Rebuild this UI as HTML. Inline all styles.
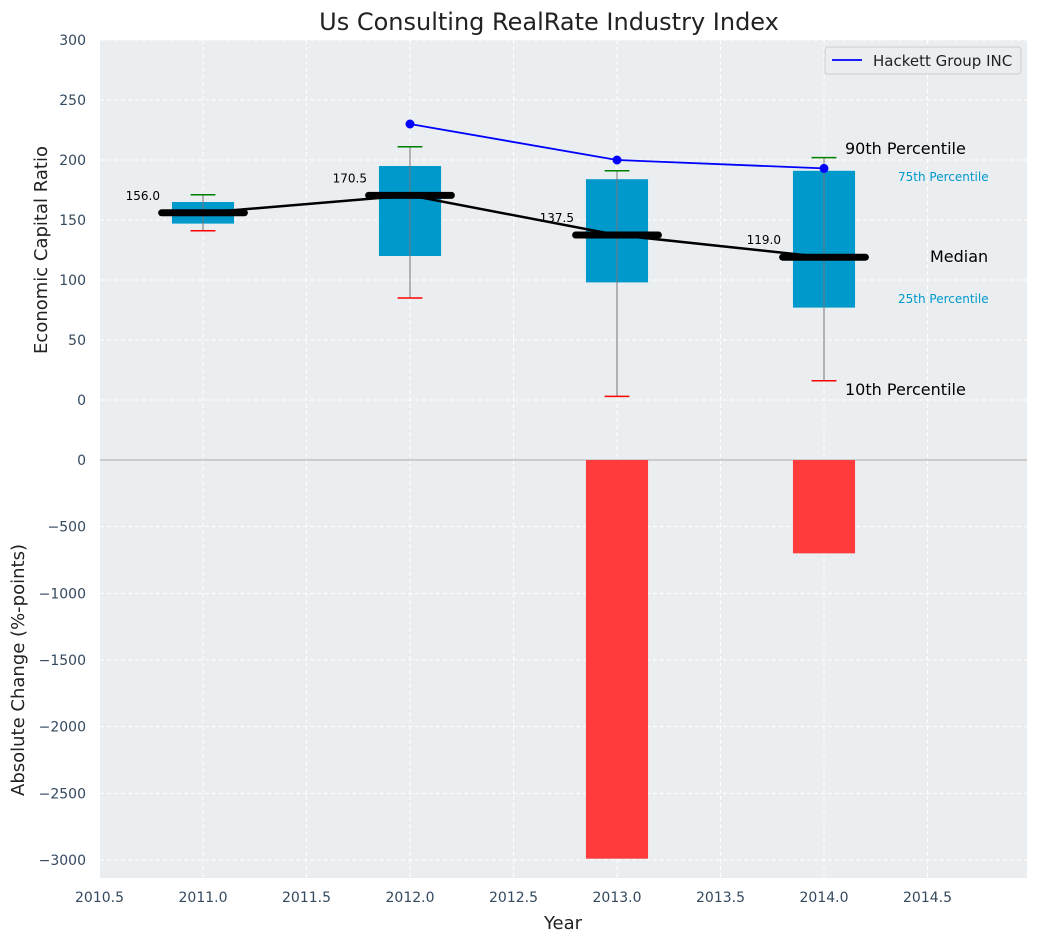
<!DOCTYPE html>
<html><head><meta charset="utf-8">
<style>
body{margin:0;background:#fff;font-family:"Liberation Sans","DejaVu Sans",sans-serif;}
svg text{font-family:"DejaVu Sans","Liberation Sans",sans-serif;}
</style></head>
<body>
<svg id="chart" width="1039" height="942" xmlns="http://www.w3.org/2000/svg"></svg>
<script>
const years=[2011,2012,2013,2014];
const p10=[141,85,3,16];
const q1=[147,120,98,77];
const median=[156,170.5,137.5,119];
const q3=[165,195,184,191];
const p90=[171,211,191,202];
const hackettYears=[2012,2013,2014];
const hackettValues=[230,200,193];
const changeYears=[2013,2014];
const changeValues=[-2990,-700];
const topTicks=[0,50,100,150,200,250,300];
const botTicks=[0,-500,-1000,-1500,-2000,-2500,-3000];
const xTicks=[2010.5,2011,2011.5,2012,2012.5,2013,2013.5,2014,2014.5];

const NS="http://www.w3.org/2000/svg";
const svg=document.getElementById('chart');
const L=100,R=1027;
const X=v=>99.5+(v-2010.5)*207;
const Yt=v=>400-(v)*1.2;
const Yb=v=>460-v*(400/3000);
function el(t,a,txt){const e=document.createElementNS(NS,t);for(const k in a)e.setAttribute(k,a[k]);if(txt!==undefined)e.textContent=txt;svg.appendChild(e);return e;}

let e;
e=el('rect',{x:L,y:40,width:R-L,height:420,fill:'#eaeef0'});


e=el('rect',{x:L,y:460,width:R-L,height:418,fill:'#eaeef0'});


xTicks.forEach(t=>{el('line',{x1:X(t),x2:X(t),y1:40,y2:878,stroke:'#fff','stroke-dasharray':'4,3','stroke-width':1});});
topTicks.forEach(t=>{el('line',{x1:L,x2:R,y1:Yt(t),y2:Yt(t),stroke:'#fff','stroke-dasharray':'4,3'});
 e=el('text',{x:86,y:Yt(t)+5,'text-anchor':'end','font-size':14,fill:'#34495e'},t);
 });
botTicks.forEach(t=>{el('line',{x1:L,x2:R,y1:Yb(t),y2:Yb(t),stroke:'#fff','stroke-dasharray':'4,3'});
 e=el('text',{x:86,y:Yb(t)+5,'text-anchor':'end','font-size':14,fill:'#34495e'},t<0?'\u2212'+(-t):t);
 });
xTicks.forEach(t=>{e=el('text',{x:X(t),y:902,'text-anchor':'middle','font-size':14,fill:'#34495e'},t.toFixed(1));
 });
el('line',{x1:L,x2:R,y1:460,y2:460,stroke:'#aaa','stroke-width':1});

years.forEach((y,i)=>{
 const cx=X(y),w=X(2011.15)-X(2011);
 e=el('rect',{x:cx-w,y:Yt(q3[i]),width:2*w,height:Yt(q1[i])-Yt(q3[i]),fill:'#0099cc'});
 
 e=el('line',{x1:cx,x2:cx,y1:Yt(p10[i]),y2:Yt(p90[i]),stroke:'#777','stroke-width':1});
 
 const c=X(2011.06)-X(2011);
 e=el('line',{x1:cx-c,x2:cx+c,y1:Yt(p90[i]),y2:Yt(p90[i]),stroke:'green','stroke-width':1.5});
 
 e=el('line',{x1:cx-c,x2:cx+c,y1:Yt(p10[i]),y2:Yt(p10[i]),stroke:'red','stroke-width':1.5});
 
});
e=el('polyline',{points:years.map((y,i)=>X(y)+','+Yt(median[i])).join(' '),fill:'none',stroke:'#000','stroke-width':2.5});

years.forEach((y,i)=>{
 const m=X(2011.2)-X(2011);
 e=el('line',{x1:X(y)-m,x2:X(y)+m,y1:Yt(median[i]),y2:Yt(median[i]),stroke:'#000','stroke-width':7,'stroke-linecap':'round'});
 
 e=el('text',{x:X(y)-43,y:Yt(median[i])-13,'text-anchor':'end','font-size':12,fill:'#000'},median[i].toFixed(1));
 
});
e=el('polyline',{points:hackettYears.map((y,i)=>X(y)+','+Yt(hackettValues[i])).join(' '),fill:'none',stroke:'blue','stroke-width':1.8});

hackettYears.forEach((y,i)=>{e=el('circle',{cx:X(y),cy:Yt(hackettValues[i]),r:4.5,fill:'blue'});
 });
changeYears.forEach((y,i)=>{const w=X(2011.15)-X(2011);
 e=el('rect',{x:X(y)-w,y:Yb(0),width:2*w,height:Yb(changeValues[i])-Yb(0),fill:'#ff3b3b'});
 });
const ann=[[845,154,'90th Percentile',16,'#000'],[898,181,'75th Percentile',12,'#0099cc'],[930,262,'Median',16,'#000'],[898,303,'25th Percentile',12,'#0099cc'],[845,395,'10th Percentile',16,'#000']];
ann.forEach(a=>{e=el('text',{x:a[0],y:a[1],'font-size':a[3],fill:a[4]},a[2]);
 });
e=el('rect',{x:825,y:47,width:196,height:27,fill:'#eaeef0',stroke:'#ccc',rx:3});

el('line',{x1:832,x2:862,y1:60,y2:60,stroke:'blue','stroke-width':1.8});
e=el('text',{x:873,y:66,'font-size':15,fill:'#222'},'Hackett Group INC');

e=el('text',{x:549,y:30,'text-anchor':'middle','font-size':24,fill:'#222'},'Us Consulting RealRate Industry Index');

e=el('text',{x:563,y:929,'text-anchor':'middle','font-size':18,fill:'#222'},'Year');

e=el('text',{x:47,y:250,'text-anchor':'middle','font-size':18,fill:'#222',transform:'rotate(-90 47 250)'},'Economic Capital Ratio');

e=el('text',{x:24,y:670,'text-anchor':'middle','font-size':18,fill:'#222',transform:'rotate(-90 24 670)'},'Absolute Change (%-points)');

</script>
</body></html>
